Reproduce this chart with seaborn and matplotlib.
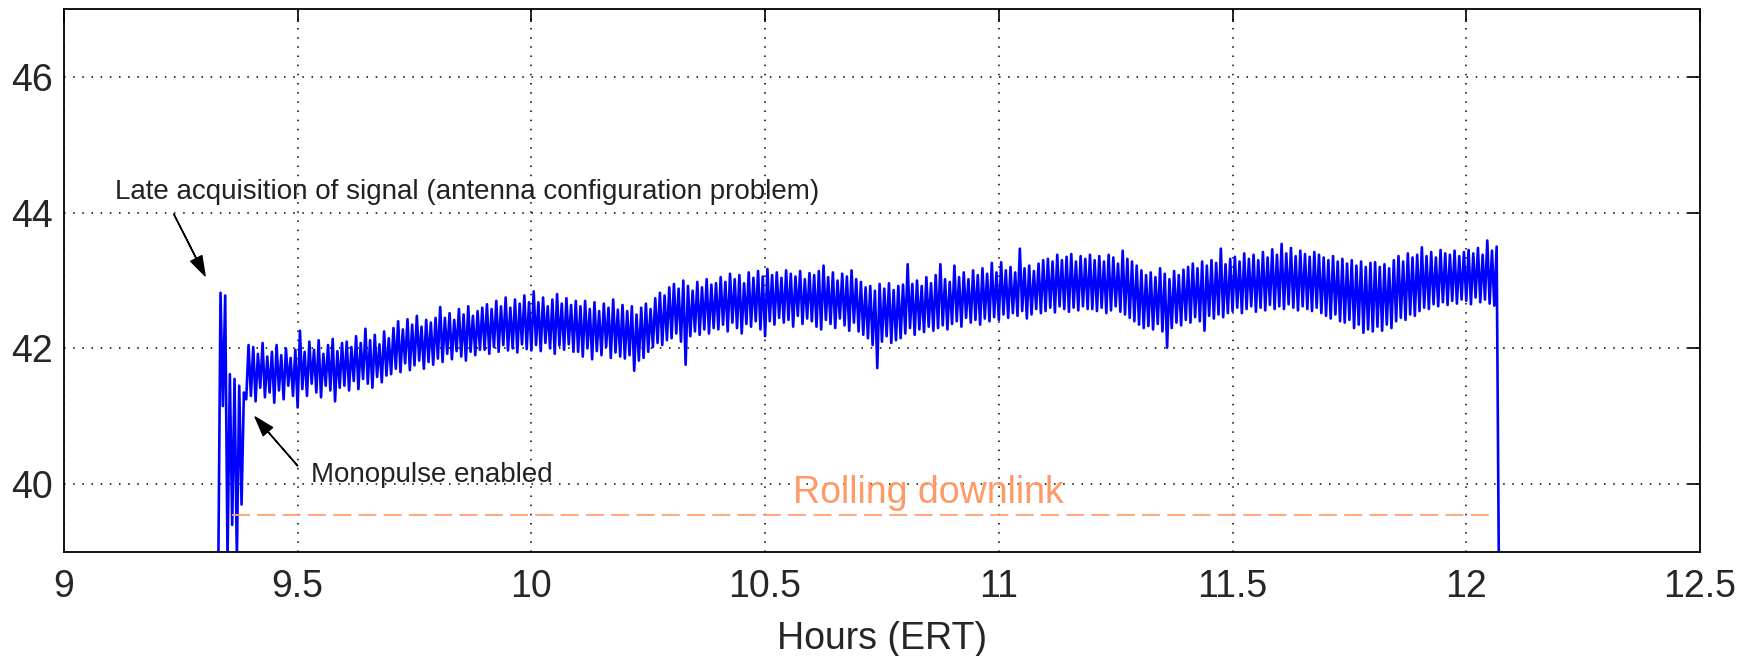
# Signal level during the pass, with annotations

import numpy as np
import pandas as pd
import seaborn as sns
import matplotlib.pyplot as plt

# Data: upper/lower excursion of the trace every 0.01 h
start_hour = 9.33
step_hour = 0.01

upper = [
    42.82, 42.78, 41.62, 41.55, 41.45, 41.35, 42.05,                      # 9.33-9.39
    42.02, 41.92, 42.08, 41.88, 41.95, 42.05, 41.90, 42.00, 41.86, 41.98,  # 9.4
    42.26, 41.95, 42.10, 41.98, 42.12, 41.92, 42.05, 42.14, 41.96, 42.08,  # 9.5
    42.10, 42.02, 42.18, 42.08, 42.29, 42.12, 42.20, 42.06, 42.25, 42.15,  # 9.6
    42.30, 42.40, 42.28, 42.43, 42.35, 42.48, 42.32, 42.42, 42.38, 42.45,  # 9.7
    42.61, 42.45, 42.52, 42.42, 42.58, 42.50, 42.62, 42.48, 42.55, 42.60,  # 9.8
    42.65, 42.58, 42.70, 42.62, 42.75, 42.60, 42.72, 42.66, 42.78, 42.68,  # 9.9
    42.84, 42.68, 42.75, 42.62, 42.72, 42.80, 42.66, 42.74, 42.64, 42.70,  # 10.0
    42.62, 42.70, 42.58, 42.68, 42.55, 42.66, 42.60, 42.72, 42.57, 42.64,  # 10.1
    42.55, 42.62, 42.50, 42.60, 42.66, 42.58, 42.74, 42.82, 42.78, 42.90,  # 10.2
    42.95, 42.88, 43.00, 42.92, 42.85, 42.98, 42.90, 43.02, 42.94, 42.96,  # 10.3
    43.05, 42.98, 43.10, 43.02, 43.08, 42.96, 43.12, 43.04, 43.14, 43.06,  # 10.4
    43.17, 43.08, 43.12, 43.04, 43.15, 43.10, 43.06, 43.14, 43.02, 43.11,  # 10.5
    43.08, 43.14, 43.22, 43.05, 43.12, 43.00, 43.10, 43.06, 43.15, 43.02,  # 10.6
    42.98, 42.90, 42.92, 42.85, 42.95, 42.88, 42.96, 42.86, 42.92, 42.94,  # 10.7
    43.24, 42.95, 43.00, 42.92, 43.05, 42.96, 43.08, 43.24, 43.02, 42.98,  # 10.8
    43.22, 43.05, 43.12, 43.02, 43.15, 43.08, 43.18, 43.10, 43.26, 43.12,  # 10.9
    43.27, 43.15, 43.20, 43.12, 43.47, 43.18, 43.22, 43.14, 43.25, 43.30,  # 11.0
    43.32, 43.28, 43.38, 43.30, 43.35, 43.39, 43.28, 43.36, 43.32, 43.38,  # 11.1
    43.30, 43.36, 43.28, 43.38, 43.34, 43.25, 43.44, 43.32, 43.28, 43.22,  # 11.2
    43.15, 43.08, 43.12, 43.05, 43.18, 43.10, 43.02, 43.14, 43.08, 43.16,  # 11.3
    43.20, 43.25, 43.18, 43.28, 43.22, 43.30, 43.26, 43.47, 43.24, 43.32,  # 11.4
    43.35, 43.28, 43.40, 43.32, 43.38, 43.30, 43.42, 43.34, 43.46, 43.38,  # 11.5
    43.54, 43.40, 43.48, 43.36, 43.44, 43.39, 43.35, 43.42, 43.38, 43.34,  # 11.6
    43.30, 43.36, 43.28, 43.32, 43.25, 43.30, 43.22, 43.28, 43.20, 43.26,  # 11.7
    43.27, 43.20, 43.24, 43.18, 43.30, 43.36, 43.28, 43.40, 43.34, 43.38,  # 11.8
    43.49, 43.36, 43.42, 43.34, 43.45, 43.40, 43.38, 43.44, 43.36, 43.42,  # 11.9
    43.45, 43.40, 43.48, 43.38, 43.59, 43.44, 43.50, np.nan,               # 12.0-12.07
]

lower = [
    38.50, 41.15, 38.90, 39.40, 38.90, 39.70, 41.25,
    41.30, 41.22, 41.42, 41.28, 41.35, 41.20, 41.38, 41.25, 41.45, 41.30,
    41.13, 41.40, 41.30, 41.48, 41.35, 41.28, 41.45, 41.38, 41.22, 41.42,
    41.45, 41.38, 41.52, 41.40, 41.55, 41.48, 41.42, 41.58, 41.50, 41.60,
    41.62, 41.70, 41.65, 41.78, 41.68, 41.75, 41.82, 41.70, 41.80, 41.76,
    41.85, 41.80, 41.92, 41.84, 41.96, 41.88, 41.82, 41.95, 41.90, 41.98,
    41.98, 41.92, 42.02, 41.95, 42.05, 41.97, 42.00, 41.94, 42.06, 41.99,
    41.97, 42.05, 41.96, 42.08, 42.00, 41.92, 42.04, 41.98, 42.06, 41.95,
    41.95, 41.88, 42.00, 41.84, 41.96, 41.90, 42.02, 41.86, 41.94, 41.88,
    41.85, 41.90, 41.67, 41.82, 41.86, 41.95, 42.02, 42.08, 42.05, 42.12,
    42.15, 42.22, 42.10, 41.76, 42.18, 42.25, 42.20, 42.28, 42.22, 42.30,
    42.28, 42.35, 42.25, 42.38, 42.30, 42.22, 42.36, 42.32, 42.40, 42.28,
    42.18, 42.40, 42.35, 42.45, 42.38, 42.42, 42.32, 42.48, 42.36, 42.44,
    42.40, 42.32, 42.28, 42.42, 42.36, 42.30, 42.44, 42.34, 42.26, 42.38,
    42.25, 42.20, 42.15, 42.05, 41.71, 42.10, 42.18, 42.08, 42.12, 42.15,
    42.22, 42.30, 42.20, 42.28, 42.24, 42.32, 42.26, 42.30, 42.34, 42.28,
    42.36, 42.40, 42.32, 42.45, 42.38, 42.42, 42.35, 42.44, 42.40, 42.46,
    42.42, 42.50, 42.45, 42.52, 42.48, 42.55, 42.44, 42.50, 42.58, 42.52,
    42.55, 42.60, 42.53, 42.62, 42.58, 42.54, 42.60, 42.56, 42.62, 42.58,
    42.58, 42.55, 42.60, 42.52, 42.56, 42.62, 42.54, 42.50, 42.45, 42.40,
    42.35, 42.30, 42.33, 42.28, 42.36, 42.25, 42.01, 42.30, 42.38, 42.34,
    42.42, 42.38, 42.46, 42.40, 42.26, 42.48, 42.44, 42.50, 42.46, 42.52,
    42.55, 42.60, 42.52, 42.58, 42.62, 42.54, 42.60, 42.56, 42.64, 42.58,
    42.62, 42.58, 42.65, 42.60, 42.56, 42.62, 42.58, 42.55, 42.60, 42.52,
    42.48, 42.44, 42.50, 42.40, 42.38, 42.42, 42.30, 42.35, 42.23, 42.28,
    42.25, 42.32, 42.26, 42.35, 42.30, 42.40, 42.45, 42.42, 42.50, 42.48,
    42.55, 42.60, 42.58, 42.65, 42.62, 42.68, 42.64, 42.70, 42.66, 42.72,
    42.70, 42.65, 42.75, 42.68, 42.72, 42.66, 42.63, 38.50,
]

downlink_level = 39.55
downlink_hours = [9.36, 12.06]

x_ticks = [9, 9.5, 10, 10.5, 11, 11.5, 12, 12.5]
x_tick_labels = ["9", "9.5", "10", "10.5", "11", "11.5", "12", "12.5"]
y_ticks = [40, 42, 44, 46]

# trace goes lower -> upper inside each 0.01 h slot
hours = start_hour + step_hour * np.arange(len(lower))
df = pd.DataFrame({
    "hour": np.column_stack([hours, hours + step_hour / 2]).ravel(),
    "level": np.column_stack([lower, upper]).ravel(),
})

sns.set_style("white")
plt.rcParams["font.family"] = ["Liberation Sans", "DejaVu Sans"]

fig = plt.figure(figsize=(17.56, 6.56), dpi=100)
ax = fig.add_axes([0.0364, 0.1585, 0.9317, 0.8277])

sns.lineplot(data=df, x="hour", y="level", sort=False, estimator=None,
             color="#0000FF", linewidth=1.9, ax=ax)
ax.plot(downlink_hours, [downlink_level] * 2, color="#FFA070",
        linewidth=1.3, dashes=(10, 4))

# annotations
arrow = dict(facecolor="black", edgecolor="black", width=0.3,
             headwidth=9, headlength=14, shrink=0.0)
ax.text(10.56, 39.87, "Rolling downlink", color="#FF9966", fontsize=27,
        va="center", ha="left")
ax.text(9.109, 44.31, "Late acquisition of signal (antenna configuration problem)",
        fontsize=20, va="center", ha="left", color="#222222")
ax.annotate("", xy=(9.302, 43.07), xytext=(9.235, 43.98), arrowprops=arrow)
ax.text(9.529, 40.13, "Monopulse enabled", fontsize=20, va="center",
        ha="left", color="#222222")
ax.annotate("", xy=(9.409, 40.99), xytext=(9.50, 40.27), arrowprops=arrow)

ax.set_xlim(9, 12.5)
ax.set_ylim(39, 47)
ax.set_xticks(x_ticks)
ax.set_xticklabels(x_tick_labels)
ax.set_yticks(y_ticks)
ax.set_xlabel("Hours (ERT)", fontsize=27, labelpad=12)
ax.set_ylabel("")
ax.tick_params(labelsize=27, direction="in", length=9, width=1.2,
               top=True, right=True, color="black")
ax.tick_params(axis="x", pad=12)
ax.tick_params(axis="y", pad=8)
ax.grid(True, color="black", linestyle=(0, (1, 5)), linewidth=1.1)
for spine in ax.spines.values():
    spine.set_color("black")
    spine.set_linewidth(1.3)

plt.savefig("out.png", dpi=100)
